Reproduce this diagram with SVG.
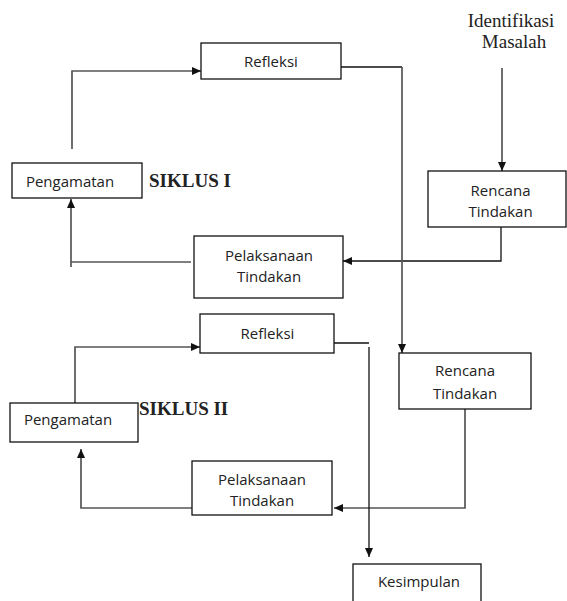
<svg xmlns="http://www.w3.org/2000/svg" width="567" height="601" viewBox="0 0 567 601">
<style>
.box{fill:#fff;stroke:#111;stroke-width:1.3}
.t{font-family:"Open Sans","Noto Sans",sans-serif;font-size:15px;fill:#222;text-anchor:middle}
.s{font-family:"Liberation Serif","Times New Roman",serif;font-size:19px;fill:#222;text-anchor:middle}
.sb{font-family:"Liberation Serif","Times New Roman",serif;font-size:19px;font-weight:bold;fill:#222}
.g{fill:none;stroke:#555;stroke-width:1.7}
.k{fill:none;stroke:#111;stroke-width:1.3}
</style>
<defs>
<marker id="ah" markerUnits="userSpaceOnUse" markerWidth="10" markerHeight="9" refX="9" refY="4" orient="auto">
<path d="M0,0 L9,4 L0,8 z" fill="#111"/>
</marker>
</defs>
<rect width="567" height="601" fill="#fff"/>
<g id="connectors">
<path class="g" d="M502,68 V171" marker-end="url(#ah)"/>
<path class="k" d="M501,227 V261 H343" marker-end="url(#ah)"/>
<path class="g" d="M191,262 H71"/>
<path class="g" d="M71,267 V199" marker-end="url(#ah)"/>
<path class="g" d="M72,149 V71 H201" marker-end="url(#ah)"/>
<path class="k" d="M341,67 H402"/>
<path class="g" d="M402,67 V353" marker-end="url(#ah)"/>
<path class="g" d="M465,409 V508 H334" marker-end="url(#ah)"/>
<path class="g" d="M194,508 H81 V449" marker-end="url(#ah)"/>
<path class="g" d="M75,403 V347 H200" marker-end="url(#ah)"/>
<path class="k" d="M332,343 H369"/>
<path class="k" d="M369,347 V557" marker-end="url(#ah)"/>
</g>
<g id="identifikasi">
<text class="s" x="511" y="27">Identifikasi</text>
<text class="s" x="514" y="48">Masalah</text>
</g>
<g id="refleksi1">
<rect class="box" x="201" y="43" width="140" height="36"/>
<text class="t" x="271" y="67">Refleksi</text>
</g>
<g id="pengamatan1">
<rect class="box" x="12" y="163" width="130" height="35"/>
<text class="t" x="70" y="187">Pengamatan</text>
</g>
<g id="siklus1">
<text class="sb" x="149" y="187">SIKLUS I</text>
</g>
<g id="rencana1">
<rect class="box" x="428" y="171" width="138" height="56"/>
<text class="t" x="500.5" y="195.5">Rencana</text>
<text class="t" x="500.5" y="217">Tindakan</text>
</g>
<g id="pelaksanaan1">
<rect class="box" x="194" y="236" width="149" height="62"/>
<text class="t" x="269" y="261">Pelaksanaan</text>
<text class="t" x="269" y="282">Tindakan</text>
</g>
<g id="refleksi2">
<rect class="box" x="200" y="314" width="134" height="39"/>
<text class="t" x="267.5" y="339">Refleksi</text>
</g>
<g id="rencana2">
<rect class="box" x="399" y="353" width="132" height="56"/>
<text class="t" x="465" y="376">Rencana</text>
<text class="t" x="465" y="399">Tindakan</text>
</g>
<g id="pengamatan2">
<rect class="box" x="10" y="403" width="128" height="39"/>
<text class="t" x="68" y="425">Pengamatan</text>
</g>
<g id="siklus2">
<text class="sb" x="139" y="415">SIKLUS II</text>
</g>
<g id="pelaksanaan2">
<rect class="box" x="192" y="461" width="140" height="54"/>
<text class="t" x="262" y="484.5">Pelaksanaan</text>
<text class="t" x="262" y="506">Tindakan</text>
</g>
<g id="kesimpulan">
<rect class="box" x="353" y="564" width="128" height="50"/>
<text class="t" x="419" y="587">Kesimpulan</text>
</g>
</svg>
